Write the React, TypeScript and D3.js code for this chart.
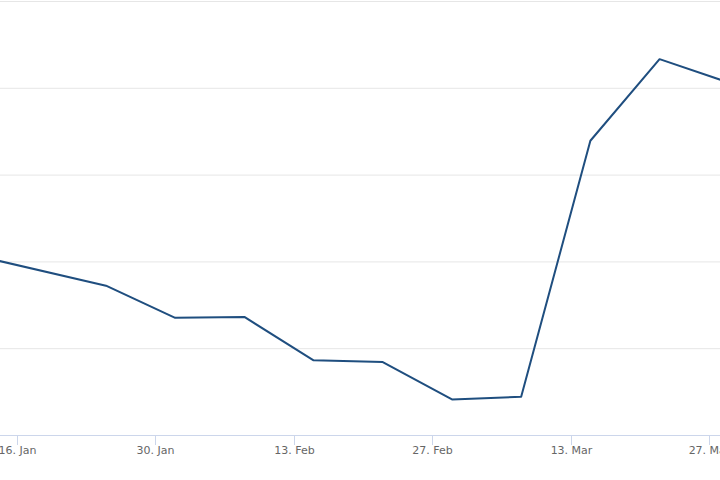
import React from "react";
import * as d3 from "d3";

const dates: string[] = [
  "2021-01-11", "2021-01-25", "2021-02-01", "2021-02-08", "2021-02-15",
  "2021-02-22", "2021-03-01", "2021-03-08", "2021-03-15", "2021-03-22", "2021-03-29",
];
const values: number[] = [20.9, 17.2, 13.5, 13.6, 8.6, 8.4, 4.1, 4.4, 33.9, 43.3, 40.6];
const tickDates: string[] = ["2021-01-16", "2021-01-30", "2021-02-13", "2021-02-27", "2021-03-13", "2021-03-27"];
const tickLabels: string[] = ["16. Jan", "30. Jan", "13. Feb", "27. Feb", "13. Mar", "27. Mar"];
const yTicks: number[] = [0, 10, 20, 30, 40, 50];

const W = 720;
const H = 480;
const plotBottom = 435;
const plotTop = 1;

export default function App() {
  const parse = d3.utcParse("%Y-%m-%d");
  const x0 = parse(tickDates[0])!;
  const x1 = parse(tickDates[5])!;
  const x = d3.scaleUtc().domain([x0, x1]).range([17, 709]);
  const y = d3.scaleLinear().domain([0, 50]).range([plotBottom, plotTop]);
  const line = d3
    .line<number>()
    .x((_, i) => x(parse(dates[i])!))
    .y((d) => y(d));

  return (
    <svg
      width={W}
      height={H}
      style={{ position: "absolute", left: 0, top: 0, background: "#fff" }}
    >
      <defs>
        <clipPath id="plot">
          <rect x={0} y={0} width={W} height={plotBottom + 1} />
        </clipPath>
      </defs>
      {yTicks.slice(1).map((t) => (
        <line key={t} x1={0} x2={W} y1={y(t) + 0.5} y2={y(t) + 0.5} stroke="#e6e6e6" strokeWidth={1} />
      ))}
      <line x1={0} x2={W} y1={plotBottom + 0.5} y2={plotBottom + 0.5} stroke="#ccd6eb" strokeWidth={1} />
      {tickDates.map((td, i) => {
        const px = Math.round(x(parse(td)!)) + 0.5;
        return (
          <g key={td}>
            <line x1={px} x2={px} y1={plotBottom} y2={plotBottom + 10} stroke="#ccd6eb" strokeWidth={1} />
            <text
              x={px}
              y={454}
              textAnchor="middle"
              fontFamily="'DejaVu Sans', sans-serif"
              fontSize={11}
              fill="#666666"
            >
              {tickLabels[i]}
            </text>
          </g>
        );
      })}
      <g clipPath="url(#plot)">
        <path d={line(values) || ""} fill="none" stroke="#1f4e7f" strokeWidth={2} strokeLinejoin="round" strokeLinecap="round" />
      </g>
    </svg>
  );
}
